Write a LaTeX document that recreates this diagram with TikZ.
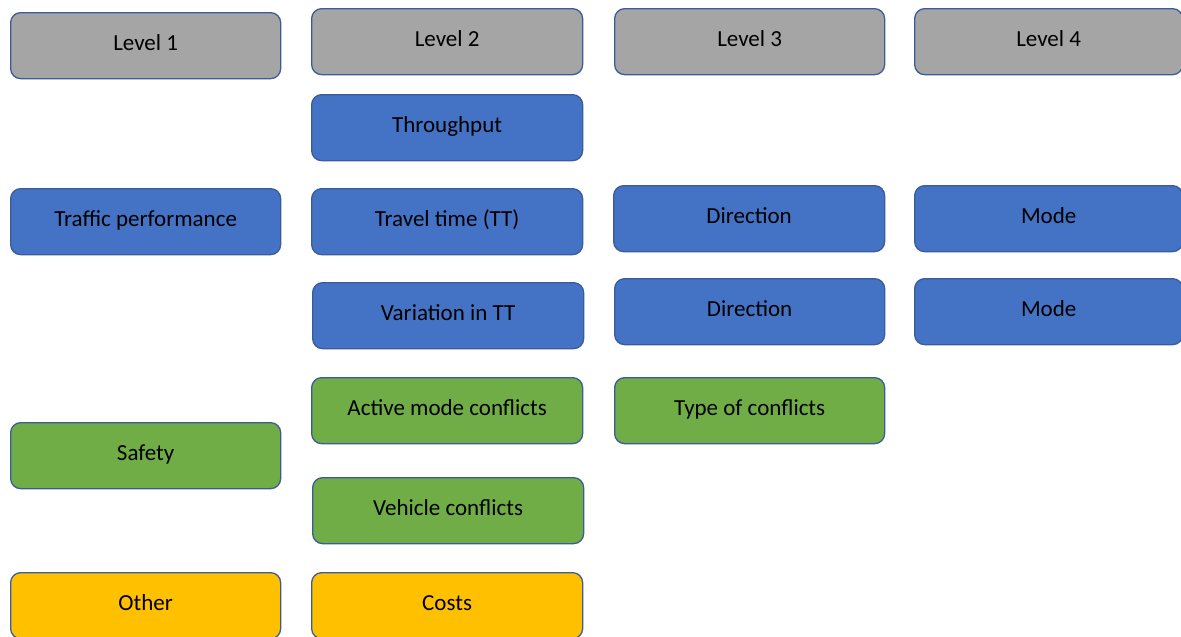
\documentclass[tikz,border=0pt]{standalone}
\usepackage{fontspec}
\setmainfont{Carlito}
\definecolor{levelgray}{HTML}{A5A5A5}
\definecolor{perfblue}{HTML}{4472C4}
\definecolor{safegreen}{HTML}{70AD47}
\definecolor{costgold}{HTML}{FFC000}
\definecolor{edgeblue}{HTML}{3A5C98}
\tikzset{
  card/.style={draw=edgeblue, line width=1.3pt, rounded corners=10pt,
    anchor=north west, minimum height=66pt, inner sep=0pt,
    font=\fontsize{23}{27}\selectfont, text=black,
    text height=14.5pt, text depth=5pt},
  lvl/.style={card, fill=levelgray},
  perf/.style={card, fill=perfblue},
  safe/.style={card, fill=safegreen},
  cost/.style={card, fill=costgold},
  wA/.style={minimum width=270pt},
  wB/.style={minimum width=271pt},
  wC/.style={minimum width=268pt}
}
\begin{document}
\begin{tikzpicture}[x=1pt, y=-1pt]
\useasboundingbox (0,0) rectangle (1181,637);
% column headings
\node[lvl, wA] (l1) at (10,12)  {Level 1};
\node[lvl, wB] (l2) at (311,8)  {Level 2};
\node[lvl, wA] (l3) at (614,8)  {Level 3};
\node[lvl, wC] (l4) at (914,8)  {Level 4};
% traffic performance branch
\node[perf, wB] (thr) at (311,94)  {Throughput};
\node[perf, wA] (tp)  at (10,188)  {Traffic performance};
\node[perf, wB] (tt)  at (311,188) {Travel time (TT)};
\node[perf, wB] (d1)  at (613,185) {Direction};
\node[perf, wC] (m1)  at (914,185) {Mode};
\node[perf, wB] (var) at (312,282) {Variation in TT};
\node[perf, wA] (d2)  at (614,278) {Direction};
\node[perf, wC] (m2)  at (914,278) {Mode};
% safety branch
\node[safe, wB] (amc) at (311,377) {Active mode conflicts};
\node[safe, wA] (toc) at (614,377) {Type of conflicts};
\node[safe, wA] (saf) at (10,422)  {Safety};
\node[safe, wB] (vc)  at (312,477) {Vehicle conflicts};
% other criteria
\node[cost, wA] (oth) at (10,572)  {Other};
\node[cost, wB] (cos) at (311,572) {Costs};
\end{tikzpicture}
\end{document}
